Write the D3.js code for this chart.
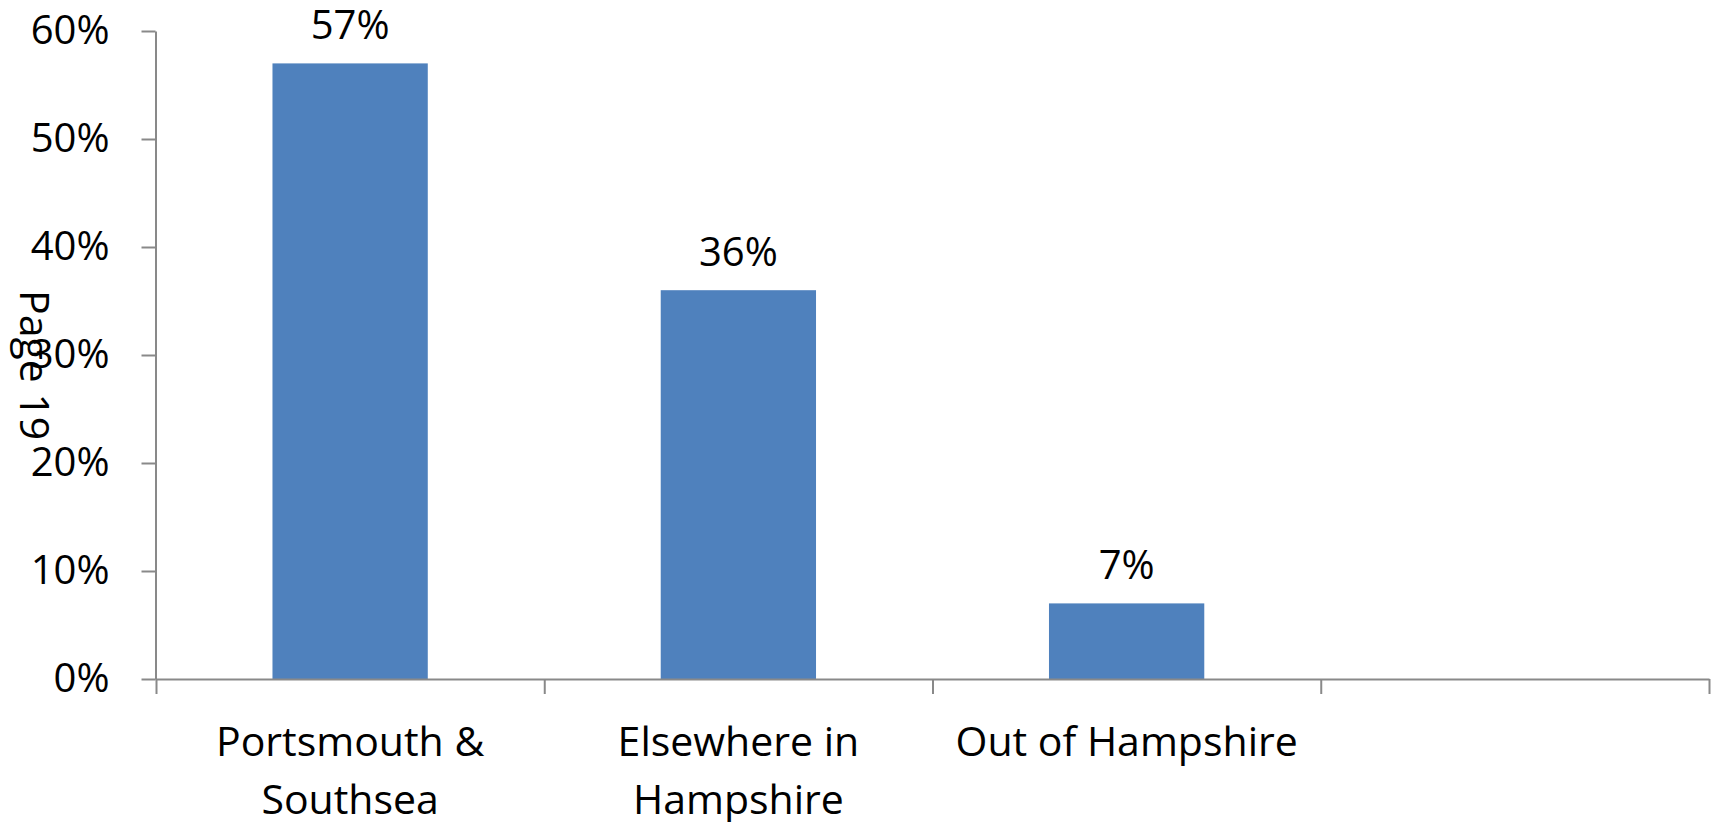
<!DOCTYPE html>
<meta charset="utf-8">
<head>
<style>
  body { margin: 0; background: #fff; }
  svg text { font-family: "Open Sans", "Noto Sans", sans-serif; fill: #000; }
  .axis path, .axis line { stroke: #898989; stroke-width: 2px; }
  .bar { fill: #4f81bd; }
</style>
</head>
<body>
<script src="https://d3js.org/d3.v7.min.js"></script>
<script>
// data
var categories = ["Portsmouth & Southsea", "Elsewhere in Hampshire", "Out of Hampshire", ""];
var labelLines = [["Portsmouth &", "Southsea"], ["Elsewhere in", "Hampshire"], ["Out of Hampshire"], []];
var values = [0.57, 0.36, 0.07];
var yTicks = [0, 0.1, 0.2, 0.3, 0.4, 0.5, 0.6];

var W = 1714, H = 822;
// plot edges (note: "top" is a reserved window property, so use a plain object)
var plot = { x0: 156, x1: 1709, y0: 31, y1: 679 };

var svg = d3.select("body").append("svg")
    .attr("width", W)
    .attr("height", H);

// scales
var x = d3.scaleBand().domain(categories).range([plot.x0, plot.x1])
    .paddingInner(0.6).paddingOuter(0.3);
var xEdge = d3.scaleLinear().domain([0, categories.length]).range([plot.x0, plot.x1]);
var y = d3.scaleLinear().domain([0, 0.6]).range([plot.y1, plot.y0]);

// bars
svg.selectAll(".bar")
    .data(values)
  .enter().append("rect")
    .attr("class", "bar")
    .attr("x", function(d, i) { return x(categories[i]); })
    .attr("y", function(d) { return y(d); })
    .attr("width", x.bandwidth())
    .attr("height", function(d) { return y(0) - y(d); });

// value labels
svg.selectAll(".val")
    .data(values)
  .enter().append("text")
    .attr("class", "val")
    .attr("x", function(d, i) { return x(categories[i]) + x.bandwidth() / 2; })
    .attr("y", function(d) { return y(d) - 24; })
    .attr("text-anchor", "middle")
    .style("font-size", "40px")
    .text(function(d) { return Math.round(d * 100) + "%"; });

// y axis
svg.append("g")
    .attr("class", "axis")
    .attr("transform", "translate(" + (plot.x0 - 0.5) + ",0)")
    .call(d3.axisLeft(y).tickValues(yTicks).tickSize(14).tickSizeOuter(0)
        .tickPadding(32).tickFormat(d3.format(".0%")))
    .call(function(g) {
        g.attr("font-family", null).attr("font-size", null);
        g.selectAll("text").style("font-size", "40px");
    });

// x axis, ticks between categories
svg.append("g")
    .attr("class", "axis")
    .attr("transform", "translate(0," + plot.y1 + ")")
    .call(d3.axisBottom(xEdge).tickValues(d3.range(categories.length + 1))
        .tickSize(15).tickSizeOuter(0).tickFormat(""));

// category labels
var cat = svg.selectAll(".cat")
    .data(labelLines)
  .enter().append("text")
    .attr("class", "cat")
    .attr("text-anchor", "middle")
    .style("font-size", "41px")
    .attr("transform", function(d, i) {
        return "translate(" + (x(categories[i]) + x.bandwidth() / 2) + ",756)";
    });
cat.selectAll("tspan")
    .data(function(d) { return d; })
  .enter().append("tspan")
    .attr("x", 0)
    .attr("dy", function(d, i) { return i === 0 ? 0 : 58; })
    .text(function(d) { return d; });

// page note on the left edge
svg.append("text")
    .attr("transform", "translate(20,290) rotate(90)")
    .style("font-size", "41px")
    .text("Page 19");
</script>
</body>
</html>
